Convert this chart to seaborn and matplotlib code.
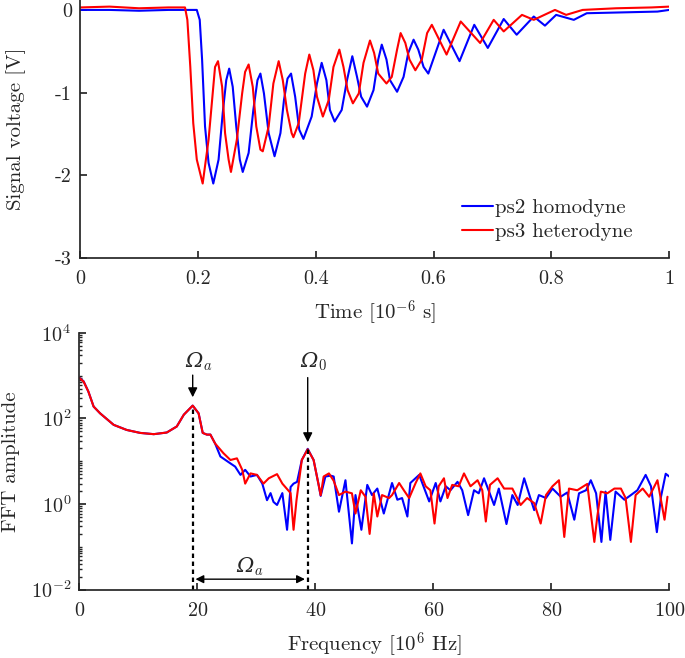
import numpy as np
import matplotlib
matplotlib.use("Agg")
import matplotlib.pyplot as plt
import matplotlib.ticker as mticker
import seaborn as sns

# --- time signal, time in 1e-6 s, voltage in V ---
t_homo = [0, 0.05, 0.10, 0.15, 0.198, 0.203, 0.207, 0.212, 0.218, 0.226,
          0.235, 0.242, 0.248, 0.253, 0.259, 0.265, 0.271, 0.276,
          0.286, 0.294, 0.301, 0.306, 0.312, 0.320, 0.330,
          0.340, 0.346, 0.352, 0.358, 0.365, 0.372, 0.379,
          0.393, 0.402, 0.410, 0.418, 0.424, 0.432,
          0.444, 0.453, 0.462, 0.470, 0.477, 0.487,
          0.498, 0.506, 0.512, 0.520, 0.526, 0.538,
          0.549, 0.557, 0.566, 0.574, 0.583, 0.591,
          0.617, 0.644, 0.669, 0.692, 0.719, 0.741, 0.770, 0.789, 0.808, 0.838, 0.860,
          0.92, 0.98, 1.0]
v_homo = [0.0, 0.0, -0.01, 0.0, 0.0, -0.12, -0.60, -1.41, -1.85, -2.10,
          -1.81, -1.25, -0.85, -0.71, -0.93, -1.41, -1.81, -1.96,
          -1.73, -1.21, -0.85, -0.77, -1.01, -1.49, -1.77,
          -1.49, -1.09, -0.83, -0.77, -1.05, -1.45, -1.56,
          -1.29, -0.89, -0.64, -0.85, -1.21, -1.35,
          -1.21, -0.85, -0.56, -0.81, -1.05, -1.17,
          -0.97, -0.60, -0.42, -0.60, -0.85, -0.99,
          -0.81, -0.52, -0.36, -0.48, -0.69, -0.77,
          -0.24, -0.62, -0.18, -0.46, -0.11, -0.30, -0.08, -0.19, -0.06, -0.12, -0.04,
          -0.03, -0.02, 0.0]
t_hetero = [0, 0.05, 0.10, 0.15, 0.178, 0.182, 0.187, 0.192, 0.198, 0.208,
            0.218, 0.224, 0.229, 0.234, 0.241, 0.246, 0.252, 0.256,
            0.266, 0.275, 0.280, 0.286, 0.293, 0.299, 0.306, 0.310,
            0.320, 0.328, 0.337, 0.344, 0.351, 0.359, 0.362,
            0.371, 0.382, 0.389, 0.396, 0.402, 0.412,
            0.422, 0.430, 0.440, 0.447, 0.454, 0.463,
            0.473, 0.481, 0.492, 0.499, 0.506, 0.520,
            0.529, 0.538, 0.544, 0.552, 0.559, 0.569,
            0.580, 0.589, 0.597, 0.622, 0.646, 0.679, 0.702, 0.719, 0.750, 0.770,
            0.806, 0.825, 0.853, 0.91, 0.97, 1.0]
v_hetero = [0.03, 0.04, 0.02, 0.03, 0.03, -0.12, -0.69, -1.37, -1.81, -2.10,
            -1.57, -1.09, -0.69, -0.62, -0.93, -1.49, -1.81, -1.96,
            -1.57, -1.01, -0.75, -0.66, -0.93, -1.41, -1.69, -1.71,
            -1.41, -0.89, -0.62, -0.85, -1.21, -1.49, -1.54,
            -1.37, -0.77, -0.54, -0.73, -1.05, -1.29,
            -1.09, -0.69, -0.48, -0.69, -0.97, -1.13,
            -1.01, -0.64, -0.37, -0.52, -0.77, -0.89,
            -0.81, -0.48, -0.28, -0.40, -0.60, -0.73,
            -0.60, -0.28, -0.18, -0.54, -0.14, -0.40, -0.12, -0.26, -0.06, -0.12,
            0.0, -0.06, 0.0, 0.02, 0.03, 0.04]

# --- FFT amplitude, frequency in 1e6 Hz ---
f_homo = [0, 0.7, 1.5, 2.4, 3.5, 5.8, 8.0, 10.3, 12.6, 14.8, 16.5, 17.7, 19.2, 20.2,
          20.9, 21.6, 22.2, 23.0, 23.9, 25.6, 26.4, 27.3, 28.1, 29.0, 30.1, 31.0, 31.8,
          32.4, 32.9, 33.5, 34.4, 35.2, 35.8, 36.3, 36.9, 37.7, 38.7, 39.7, 40.6, 40.9,
          41.7, 42.6, 43.1, 44.0, 45.1, 46.2, 46.8, 47.8, 48.8, 49.6, 50.5, 51.6, 53.0,
          53.9, 54.7, 55.6, 56.1, 57.6, 59.3, 60.4, 61.2, 62.1, 62.9, 64.1, 64.9, 65.9,
          66.9, 67.7, 68.6, 70.3, 71.1, 72.4, 73.4, 74.3, 75.4, 76.2, 77.1, 77.9, 79.1,
          80.2, 81.6, 82.7, 83.9, 84.7, 85.9, 86.7, 87.6, 88.5, 89.2, 90.0, 90.9, 92.4,
          93.5, 94.6, 96.0, 96.9, 97.9, 98.6, 99.4, 100]
a_homo = [890, 740, 430, 190, 132, 71, 54, 46, 43, 47, 65, 123, 200, 132,
          46, 42, 42, 26, 12.9, 8.9, 7.5, 4.8, 6.3, 4.4, 4.8, 3.0, 1.23,
          1.8, 1.12, 0.95, 1.8, 0.25, 2.5, 3.0, 3.3, 10.7, 19.5, 10.7, 2.6, 1.55,
          4.4, 4.6, 4.4, 0.66, 3.6, 0.12, 1.62, 0.25, 2.8, 1.62, 2.3, 0.60, 3.1,
          1.26, 1.38, 0.51, 3.1, 4.8, 1.15, 3.1, 1.15, 2.6, 2.1, 3.3, 2.1, 0.55,
          2.1, 1.78, 4.0, 0.95, 2.3, 0.34, 1.62, 0.95, 4.0, 1.78, 0.72, 1.62, 1.38,
          2.3, 1.48, 1.86, 0.43, 1.78, 2.1, 3.6, 1.78, 0.13, 1.95, 0.145, 1.95, 1.26,
          1.62, 2.1, 4.8, 2.6, 0.22, 1.48, 5.1, 4.4]
f_hetero = [0, 0.7, 1.5, 2.4, 3.5, 5.8, 8.0, 10.3, 12.6, 14.8, 16.5, 17.7, 19.2, 20.2,
            20.9, 21.6, 22.2, 23.0, 24.4, 25.6, 26.7, 27.6, 28.1, 29.0, 30.1, 31.2, 32.1,
            33.5, 34.4, 35.8, 36.3, 36.8, 37.7, 38.7, 39.7, 40.6, 40.9, 41.4, 42.3, 43.1,
            44.0, 45.1, 46.2, 46.8, 47.7, 48.5, 49.2, 49.9, 50.5, 51.3, 52.5, 53.0, 54.2,
            55.0, 55.9, 57.0, 57.8, 58.7, 59.5, 60.2, 60.9, 61.8, 62.4, 63.2, 64.3, 65.2,
            66.3, 67.5, 68.3, 68.9, 69.6, 70.9, 72.0, 73.4, 74.8, 75.9, 77.1, 78.2, 79.1,
            80.2, 81.3, 82.2, 83.0, 84.4, 86.1, 87.3, 87.8, 88.4, 89.5, 90.7, 91.8, 92.6,
            93.5, 94.3, 95.5, 96.6, 98.0, 99.2, 99.7]
a_hetero = [880, 730, 430, 190, 132, 71, 54, 46, 43, 47, 65, 123, 200, 132,
            46, 42, 42, 26, 15.5, 10.7, 11.7, 6.3, 3.0, 5.2, 4.8, 3.0, 4.0,
            5.0, 3.0, 1.8, 0.25, 1.23, 10.7, 19, 10.7, 2.6, 1.6, 4.4, 5.2, 3.5,
            1.62, 1.95, 1.78, 0.60, 2.1, 1.48, 0.20, 1.78, 0.51, 1.62, 1.38, 1.62, 3.1,
            2.1, 1.38, 3.1, 5.2, 2.6, 2.1, 0.35, 2.6, 4.0, 1.38, 2.8, 2.6, 5.2,
            2.6, 3.6, 2.1, 0.39, 2.8, 4.0, 2.3, 2.3, 0.95, 1.38, 1.05, 0.35, 1.62,
            2.6, 3.6, 0.17, 2.3, 2.1, 2.95, 0.13, 0.51, 1.95, 1.78, 2.3, 2.3, 1.38,
            0.13, 1.62, 2.3, 1.48, 3.6, 0.43, 1.48]

omega_a = 19.2
omega_0 = 38.7

sns.set_theme(style="ticks")
plt.rcParams['font.family'] = ['cmr10']
plt.rcParams['mathtext.fontset'] = 'cm'
plt.rcParams['axes.formatter.use_mathtext'] = True
plt.rcParams['axes.unicode_minus'] = False
plt.rcParams['xtick.direction'] = 'in'
plt.rcParams['ytick.direction'] = 'in'
plt.rcParams['axes.edgecolor'] = '#262626'

fig = plt.figure(figsize=(6.85, 6.58), dpi=100)
ax1 = fig.add_axes([0.117, 0.608, 0.860, 0.392])
ax2 = fig.add_axes([0.116, 0.104, 0.861, 0.390])

blue = '#0000ff'
red = '#ff0000'
fs = 15

# top: time signal
sns.lineplot(x=t_homo, y=v_homo, ax=ax1, color=blue, lw=1.5, sort=False, label='ps2 homodyne')
sns.lineplot(x=t_hetero, y=v_hetero, ax=ax1, color=red, lw=1.5, sort=False, label='ps3 heterodyne')
ax1.set_xlim(0, 1)
ax1.set_ylim(-3, 0.12)
ax1.set_yticks([0, -1, -2, -3])
ax1.set_xticks([0, 0.2, 0.4, 0.6, 0.8, 1.0])
ax1.xaxis.set_major_formatter(mticker.FuncFormatter(lambda v, p: f"{v:g}"))
ax1.yaxis.set_major_formatter(mticker.FuncFormatter(lambda v, p: f"{v:g}"))
ax1.set_xlabel(r'Time [$10^{-6}$ s]', fontsize=fs, labelpad=7)
ax1.set_ylabel('Signal voltage [V]', fontsize=fs, labelpad=21)
ax1.legend(loc='lower left', bbox_to_anchor=(0.649, 0.066), frameon=False, fontsize=fs,
           handlelength=1.45, handletextpad=0.1, labelspacing=0.25,
           borderpad=0, borderaxespad=0)

# bottom: FFT
sns.lineplot(x=f_homo, y=a_homo, ax=ax2, color=blue, lw=1.5, sort=False)
sns.lineplot(x=f_hetero, y=a_hetero, ax=ax2, color=red, lw=1.5, sort=False)
ax2.set_yscale('log')
ax2.set_xlim(0, 100)
ax2.set_ylim(1e-2, 1e4)
ax2.yaxis.set_major_locator(mticker.FixedLocator([1e-2, 1e0, 1e2, 1e4]))
ax2.yaxis.set_minor_locator(mticker.LogLocator(base=10, subs=np.arange(1, 10), numticks=20))
ax2.yaxis.set_minor_formatter(mticker.NullFormatter())
ax2.set_xticks([0, 20, 40, 60, 80, 100])
ax2.set_xlabel(r'Frequency [$10^{6}$ Hz]', fontsize=fs, labelpad=7)
ax2.set_ylabel('FFT amplitude', fontsize=fs, labelpad=8)

for ax in (ax1, ax2):
    ax.tick_params(axis='x', labelsize=14.5, length=5, pad=9)
    ax.tick_params(axis='y', labelsize=14.5, length=5, pad=6)
ax2.tick_params(which='minor', length=2.5)

for fx, top in [(omega_a, 200), (omega_0, 19.5)]:
    ax2.plot([fx, fx], [1e-2, top], color='black', lw=1.6, ls=(0, (2, 1.6)))

sym = dict(family=['DejaVu Serif'], style='italic', fontsize=15, ha='center', va='center')
ax2.annotate('', xy=(omega_a, 270), xytext=(omega_a, 1200),
             arrowprops=dict(arrowstyle='-|>', color='black', lw=1.0, mutation_scale=14))
ax2.text(omega_a + 1, 2100, r'Ω$_a$', **sym)
ax2.annotate('', xy=(omega_0, 24), xytext=(omega_0, 1050),
             arrowprops=dict(arrowstyle='-|>', color='black', lw=1.0, mutation_scale=14))
ax2.text(omega_0 + 1, 2100, r'Ω$_0$', **sym)
ax2.annotate('', xy=(omega_a, 0.0175), xytext=(omega_0, 0.0175),
             arrowprops=dict(arrowstyle='<|-|>', color='black', lw=1.0, mutation_scale=12))
ax2.text((omega_a + omega_0) / 2, 0.034, r'Ω$_a$', **sym)

sns.despine(fig=fig)
fig.savefig('out.png', dpi=100)
